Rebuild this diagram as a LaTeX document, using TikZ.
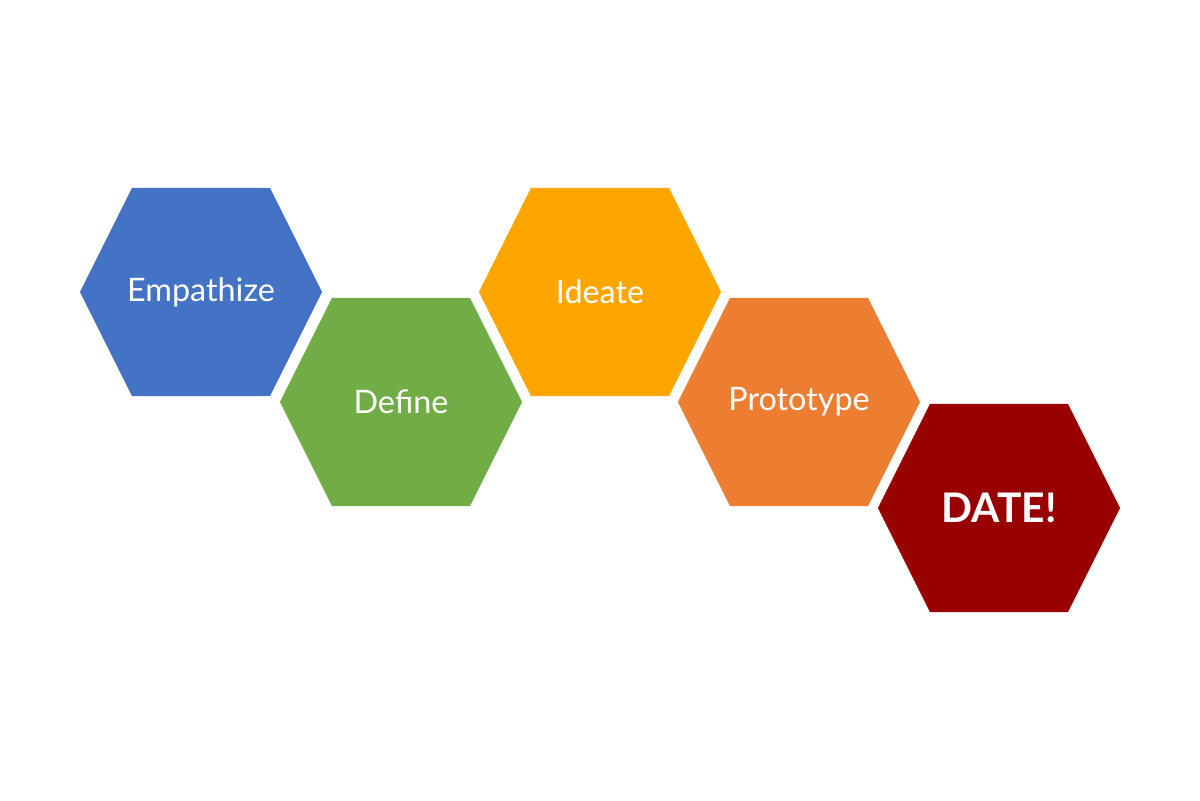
\documentclass[tikz,border=0pt]{standalone}
\usepackage{fontspec}
\setmainfont{Lato}
\usetikzlibrary{positioning}

\definecolor{hexblue}{HTML}{4472C4}
\definecolor{hexgreen}{HTML}{70AD47}
\definecolor{hexyellow}{HTML}{FFA500}
\definecolor{hexorange}{HTML}{ED7D31}
\definecolor{hexred}{HTML}{990000}

\tikzset{
  hexstep/.style={minimum width=6.05cm, minimum height=5.2cm, inner sep=0pt, outer sep=0pt,
    text=white, font=\fontsize{23}{27}\selectfont,
    path picture={\fill[#1] (path picture bounding box.west)
      -- ([xshift=1.3cm]path picture bounding box.north west)
      -- ([xshift=-1.3cm]path picture bounding box.north east)
      -- (path picture bounding box.east)
      -- ([xshift=-1.3cm]path picture bounding box.south east)
      -- ([xshift=1.3cm]path picture bounding box.south west) -- cycle;}}
}

\begin{document}
\begin{tikzpicture}[x=0.025cm, y=-0.025cm]
    \useasboundingbox (0,0) rectangle (1200,800);
    \node[hexstep=hexblue] (empathize) at (201,292) {Empathize};
    \node[hexstep=hexgreen] (define) at (401,402) {Define};
    \node[hexstep=hexyellow] (ideate) at (600,292) {Ideate};
    \node[hexstep=hexorange] (prototype) at (799,402) {Prototype};
    \node[hexstep=hexred, font=\fontsize{29}{34}\selectfont\bfseries] (date) at (999,508) {DATE!};
\end{tikzpicture}
\end{document}
